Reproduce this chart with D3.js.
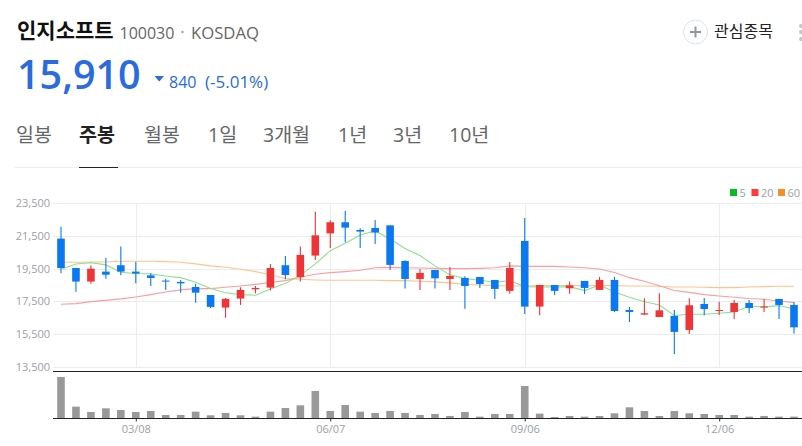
<!DOCTYPE html>
<html>
<head>
<meta charset="utf-8">
<script src="https://cdn.jsdelivr.net/npm/d3@7"></script>
<style>
  html, body { margin: 0; padding: 0; background: #fff; overflow: hidden; }
  text { font-family: "Open Sans", "Noto Sans CJK KR", sans-serif; }
</style>
</head>
<body>
<div id="chart"></div>
<script>
var svgWidth = 802;
var svgHeight = 446;

// weekly candles, one entry per week
var opens = [21340,19540,18710,19320,19710,19320,19090,18770,18690,18380,
  17890,17120,17670,18240,18340,19710,18990,20300,21660,22340,
  21870,21990,22150,19970,18870,19420,18870,18930,18990,18810,
  18140,21200,17180,18500,18300,18750,18200,18810,16970,16690,
  16540,16610,15750,17340,16910,16850,17400,17120,17650,17280];
var closes = [19540,18710,19500,19130,19320,19200,18930,18710,18600,18030,
  17160,17650,18200,18320,19540,19110,20340,21540,22340,22010,
  21770,21710,19730,18870,19240,18910,19050,18440,18560,18260,
  19540,17180,18500,18140,18480,18320,18810,16910,16850,16770,
  16950,15630,17260,17030,16970,17400,17090,17180,17280,15910];
var highs = [22070,19540,19710,20150,20850,19930,19220,18890,18810,18580,
  17890,17710,18360,18440,19790,20280,20850,22990,22460,23030,
  21970,22480,22150,20010,19480,19420,19600,19030,18990,18810,
  19910,22600,18500,18500,18710,18750,18990,18990,17160,17690,
  17990,16970,17690,17710,17480,17580,17580,17650,17650,17460];
var lows = [19220,18090,18580,18890,19090,18600,18440,18200,18030,17420,
  17090,16500,17280,17990,18160,18850,18710,20030,20770,21110,
  20770,21010,19420,18280,18200,18280,18200,17050,18320,17650,
  17970,16730,16650,17890,17970,17950,18200,16850,16240,16670,
  16540,14280,15500,16650,16670,16420,16790,16850,16420,15520];
var volumes = [124,35,19,30,25,19,22,10,10,20,
  9,16,9,5,20,31,39,82,22,40,
  20,16,22,16,10,13,7,19,5,13,
  13,97,14,4,7,5,7,15,33,22,
  7,22,15,13,10,10,5,7,5,5];
var ma5 = [19460,19790,19870,19730,19280,19200,19180,19050,18950,18670,
  18280,18030,17910,17870,18260,18600,19090,19790,20600,21050,
  21560,21810,21320,20730,20300,19670,19130,18890,18790,18670,
  18770,18400,18380,18380,18400,18160,18500,18070,17750,17480,
  17280,16630,16710,16710,16770,16850,17200,17160,17240,17030];
var ma20 = [17320,17360,17480,17560,17650,17770,17910,18070,18200,18280,
  18280,18360,18440,18540,18650,18770,18970,19160,19260,19320,
  19400,19560,19580,19560,19540,19520,19500,19500,19520,19560,
  19670,19640,19640,19640,19600,19560,19480,19260,18950,18730,
  18460,18160,18050,17910,17830,17750,17670,17630,17520,17420];
var ma60 = [19890,19890,19910,19910,19950,19950,19950,19930,19890,19790,
  19670,19590,19460,19320,19130,18890,18850,18810,18790,18790,
  18790,18790,18770,18770,18730,18690,18630,18540,18500,18460,
  18440,18440,18460,18460,18460,18460,18460,18460,18440,18440,
  18420,18380,18380,18360,18340,18340,18380,18400,18420,18420];

var priceTicks = [13500,15500,17500,19500,21500,23500];
var dateTickIndex = [5,18,31,44];
var dateTickLabels = ["03/08","06/07","09/06","12/06"];
var tabLabels = ["일봉","주봉","월봉","1일","3개월","1년","3년","10년"];
var tabX = [16,79,144,208,263,338,393,449];
var legendLabels = ["5","20","60"];

var upColor = "#ef3438";
var downColor = "#0a78f0";
var blueText = "#2a6be0";
var gridColor = "#ececef";
var axisText = "#9aa0a8";

var svg = d3.select("#chart")
  .append("svg")
  .attr("width", svgWidth)
  .attr("height", svgHeight)
  .style("display", "block");

// header
var head = svg.append("g");
head.append("text").attr("x", 17).attr("y", 38).attr("font-size", 21).attr("font-weight", 700)
  .attr("fill", "#111").text("인지소프트");
head.append("text").attr("x", 119.5).attr("y", 39).attr("font-size", 16).attr("fill", "#666").text("100030");
head.append("circle").attr("cx", 182.5).attr("cy", 32).attr("r", 1.3).attr("fill", "#aaa");
head.append("text").attr("x", 191).attr("y", 39).attr("font-size", 16.7).attr("fill", "#666").text("KOSDAQ");
head.append("text").attr("x", 17).attr("y", 89).attr("font-size", 39.5).attr("font-weight", 600)
  .attr("fill", blueText).text("15,910");
head.append("path").attr("d", "M154.5,76 h9.5 l-4.75,5.5 z").attr("fill", blueText);
head.append("text").attr("x", 169).attr("y", 88).attr("font-size", 16).attr("fill", blueText).text("840");
head.append("text").attr("x", 205).attr("y", 88).attr("font-size", 17).attr("fill", blueText).text("(-5.01%)");

// watch button
head.append("circle").attr("cx", 695.5).attr("cy", 32).attr("r", 12).attr("fill", "#fff")
  .attr("stroke", "#dfe1e8").attr("stroke-width", 1);
head.append("path").attr("d", "M695.5,26.5 v11 M690,32 h11").attr("stroke", "#8f97a5").attr("stroke-width", 2);
head.append("text").attr("x", 714).attr("y", 37).attr("font-size", 16).attr("fill", "#222").text("관심종목");
head.selectAll(".dot").data([26, 32, 39]).enter().append("circle")
  .attr("cx", 801).attr("cy", d => d).attr("r", 2).attr("fill", "#c4c7cd");

// tabs
svg.append("g").selectAll("text")
  .data(tabLabels)
  .enter()
  .append("text")
  .attr("x", (d, i) => tabX[i])
  .attr("y", 142)
  .attr("font-size", 19.5)
  .attr("font-weight", (d, i) => i == 1 ? 700 : 400)
  .attr("fill", (d, i) => i == 1 ? "#222" : "#666")
  .text(d => d);
svg.append("line").attr("x1", 15).attr("x2", svgWidth).attr("y1", 167.5).attr("y2", 167.5).attr("stroke", "#eeeeee");
svg.append("line").attr("x1", 79).attr("x2", 118).attr("y1", 167.5).attr("y2", 167.5).attr("stroke", "#222");

// legend
var legend = svg.append("g");
var legendX = [730, 751.5, 778];
var legendColors = ["#00c020", "#ff3b3b", "#ff8a1e"];
legendLabels.forEach(function(d, i) {
  legend.append("rect").attr("x", legendX[i]).attr("y", 189).attr("width", 7).attr("height", 7).attr("fill", legendColors[i]);
  legend.append("text").attr("x", legendX[i] + 9.5).attr("y", 197).attr("font-size", 11).attr("fill", axisText).text(d);
});

// scales
var x = d3.scaleLinear().domain([0, 49]).range([61, 794]);
var y = d3.scaleLinear().domain([13500, 23500]).range([366.7, 203.3]);
var yVol = d3.scaleLinear().domain([0, d3.max(volumes)]).range([418.3, 377]);
var left = 53;

// grid
var grid = svg.append("g");
grid.selectAll(".h").data(priceTicks).enter().append("line")
  .attr("x1", left).attr("x2", svgWidth)
  .attr("y1", d => Math.round(y(d)) + 0.5).attr("y2", d => Math.round(y(d)) + 0.5)
  .attr("stroke", gridColor);
grid.selectAll(".v").data(dateTickIndex).enter().append("line")
  .attr("x1", d => Math.round(x(d)) + 0.5).attr("x2", d => Math.round(x(d)) + 0.5)
  .attr("y1", 203).attr("y2", 367)
  .attr("stroke", gridColor);

// y axis labels
var yAxis = svg.append("g")
  .attr("transform", `translate(${left}, 0)`)
  .call(d3.axisLeft(y).tickValues(priceTicks).tickSize(0).tickPadding(3).tickFormat(d3.format(",")));
yAxis.select(".domain").remove();
yAxis.selectAll("text").attr("font-size", 11).attr("fill", axisText).style("font-family", '"Open Sans", sans-serif');

// moving averages
var line = d3.line().x((d, i) => x(i)).y(d => y(d));
[[ma60, "#ffc48e"], [ma20, "#ff9c9e"], [ma5, "#8fe08f"]].forEach(function(s) {
  svg.append("path")
    .attr("d", line(s[0]))
    .attr("fill", "none")
    .attr("stroke", s[1])
    .attr("stroke-width", 1.1);
});

// candles
var candles = svg.append("g").selectAll("g")
  .data(opens)
  .enter()
  .append("g");
var colorOf = (d, i) => closes[i] >= d ? upColor : downColor;
candles.append("line")
  .attr("x1", (d, i) => x(i)).attr("x2", (d, i) => x(i))
  .attr("y1", (d, i) => y(highs[i])).attr("y2", (d, i) => y(lows[i]))
  .attr("stroke", colorOf)
  .attr("stroke-width", 1.1);
candles.append("rect")
  .attr("x", (d, i) => x(i) - 3.8)
  .attr("width", 7.6)
  .attr("y", (d, i) => y(Math.max(d, closes[i])))
  .attr("height", (d, i) => Math.max(1, Math.abs(y(d) - y(closes[i]))))
  .attr("fill", colorOf);

// volume panel
svg.append("g").selectAll("rect")
  .data(volumes)
  .enter()
  .append("rect")
  .attr("x", (d, i) => x(i) - 3.8)
  .attr("width", 7.6)
  .attr("y", d => yVol(d))
  .attr("height", d => yVol(0) - yVol(d))
  .attr("fill", "#999999");

svg.append("line").attr("x1", left).attr("x2", svgWidth).attr("y1", 371.5).attr("y2", 371.5).attr("stroke", "#222");

// date axis
var dateAxis = svg.append("g")
  .attr("transform", "translate(0, 418.5)")
  .call(d3.axisBottom(x).tickValues(dateTickIndex).tickSize(3).tickPadding(4)
    .tickFormat((d, i) => dateTickLabels[i]));
dateAxis.select(".domain").remove();
dateAxis.selectAll("line").attr("stroke", "#333");
dateAxis.selectAll("text").attr("font-size", 11).attr("fill", axisText).style("font-family", '"Open Sans", sans-serif');
svg.append("line").attr("x1", left).attr("x2", svgWidth).attr("y1", 418.5).attr("y2", 418.5).attr("stroke", "#222");
</script>
</body>
</html>
